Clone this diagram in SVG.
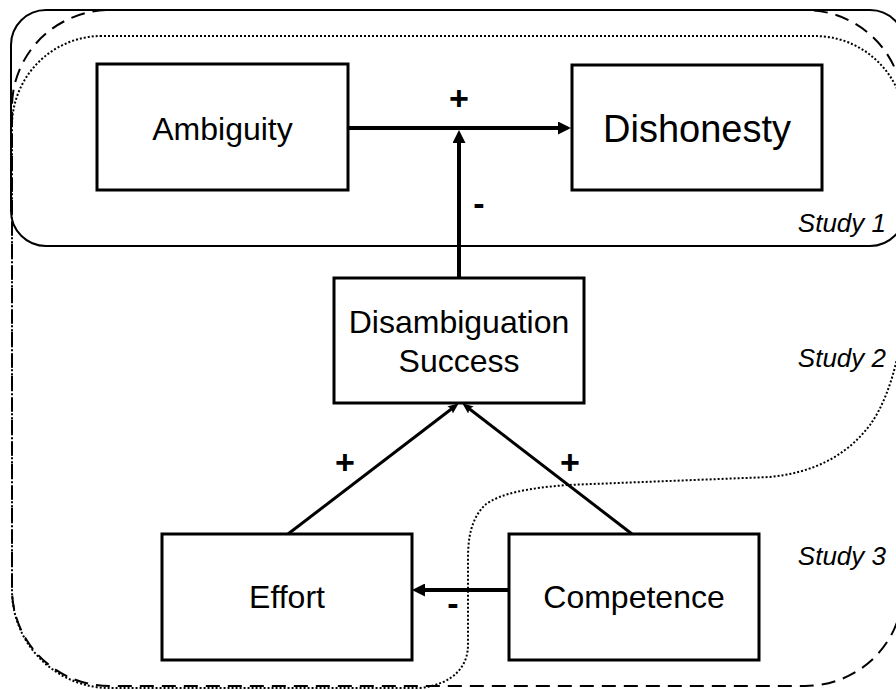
<svg xmlns="http://www.w3.org/2000/svg" width="896" height="690" viewBox="0 0 896 690">
<style>
.box{fill:#fff;stroke:#000;stroke-width:3}
.lbl{font-family:"Liberation Sans",Arial,sans-serif;font-size:32px;text-anchor:middle;fill:#000}
.study{font-family:"Liberation Sans",Arial,sans-serif;font-size:26px;font-style:italic;text-anchor:end;fill:#000}
.sign{font-family:"Liberation Sans",Arial,sans-serif;font-size:34px;font-weight:bold;text-anchor:middle;fill:#000}
.thick{fill:none;stroke:#000;stroke-width:4}
.thin{fill:none;stroke:#000;stroke-width:3}
.region{fill:none;stroke:#000;stroke-width:2}
</style>
<defs>
<marker id="ah" markerUnits="userSpaceOnUse" markerWidth="13" markerHeight="13" refX="5" refY="6.5" orient="auto">
<path d="M0,0 L13,6.5 L0,13 Z" fill="#000"/>
</marker>
<marker id="ahs" markerUnits="userSpaceOnUse" markerWidth="11" markerHeight="9" refX="5" refY="4.5" orient="auto">
<path d="M0,0 L11,4.5 L0,9 L2,4.5 Z" fill="#000"/>
</marker>
</defs>
<rect width="896" height="690" fill="#fff"/>
<g id="regions">
<rect id="study1" class="region" x="11" y="10" width="894" height="236" rx="35" ry="35"/>
<rect id="study3" class="region" x="12" y="10" width="891" height="676" rx="98" ry="97" stroke-dasharray="14 8"/>
<path id="study2" class="region" stroke-width="1.8" stroke-dasharray="2 2" d="M100,36 L815,36 A90 90 0 0 1 905,126 L905,290 C905,330 895,390 870,425 C845,458 810,473 770,477 L567,485 C530,488 500,493 485,505 C470,520 468,540 468,560 L468,645 C468,665 455,684 420,688 L110,688 A98 98 0 0 1 12,590 L12,126 A90 90 0 0 1 100,36 Z"/>
</g>
<g id="connectors">
<path class="thick" d="M348,128 L563,128" marker-end="url(#ah)"/>
<path class="thick" d="M459,278 L459,138" marker-end="url(#ah)"/>
<path class="thin" d="M288,534 L454,407" marker-end="url(#ahs)"/>
<path class="thin" d="M632,534 L467,407" marker-end="url(#ahs)"/>
<path class="thick" d="M509,590 L420,590" marker-end="url(#ah)"/>
<text class="sign" x="459" y="110">+</text>
<text class="sign" x="479" y="215">-</text>
<text class="sign" x="345" y="474">+</text>
<text class="sign" x="570" y="474">+</text>
<text class="sign" x="453" y="615">-</text>
</g>
<g id="node-ambiguity">
<rect class="box" x="97" y="64" width="251" height="126"/>
<text class="lbl" x="222.5" y="140">Ambiguity</text>
</g>
<g id="node-dishonesty">
<rect class="box" x="572" y="65" width="250" height="125"/>
<text class="lbl" x="697" y="142" font-size="38" style="font-size:38px">Dishonesty</text>
</g>
<g id="node-disambiguation">
<rect class="box" x="334" y="278" width="250" height="125"/>
<text class="lbl" x="459" y="333">Disambiguation</text>
<text class="lbl" x="459" y="372">Success</text>
</g>
<g id="node-effort">
<rect class="box" x="162" y="534" width="250" height="126"/>
<text class="lbl" x="287" y="608">Effort</text>
</g>
<g id="node-competence">
<rect class="box" x="509" y="534" width="250" height="126"/>
<text class="lbl" x="634" y="608">Competence</text>
</g>
<g id="labels">
<text class="study" x="886" y="232">Study 1</text>
<text class="study" x="886" y="367">Study 2</text>
<text class="study" x="886" y="565">Study 3</text>
</g>
</svg>
